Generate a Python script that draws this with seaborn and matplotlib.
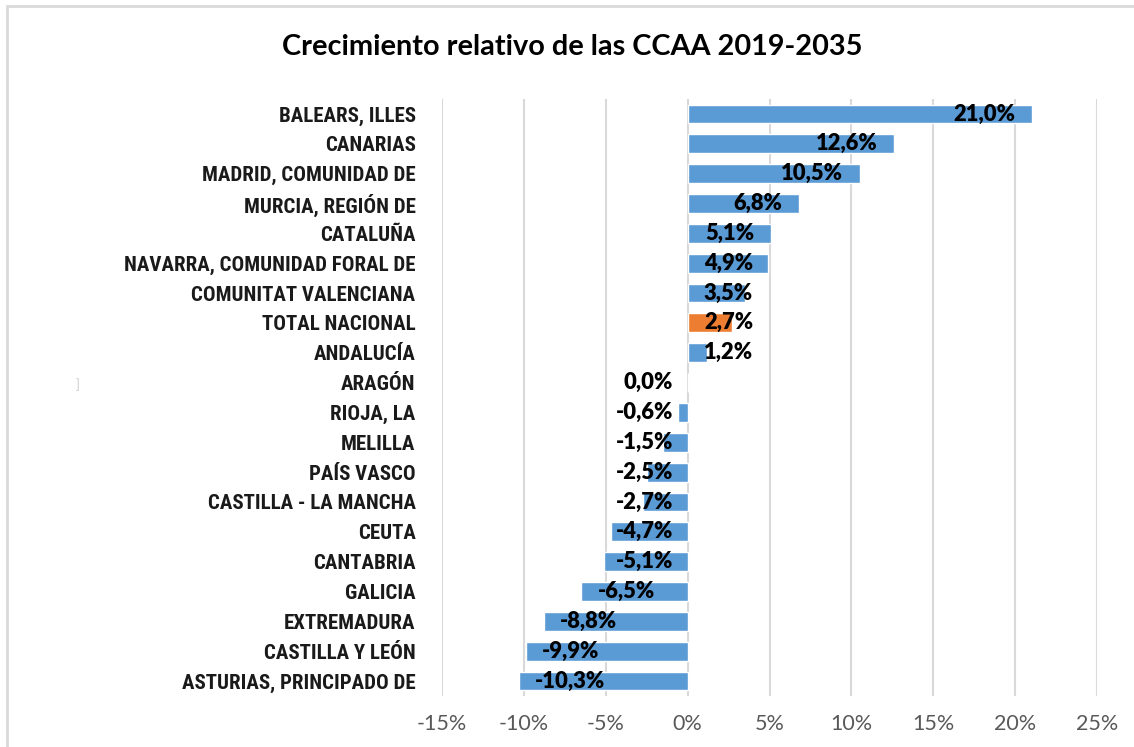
import matplotlib
matplotlib.use("Agg")
import matplotlib.pyplot as plt
import seaborn as sns
import pandas as pd
from matplotlib import font_manager
from matplotlib.patches import Rectangle

# Data
regions = [
    "BALEARS, ILLES", "CANARIAS", "MADRID, COMUNIDAD DE", "MURCIA, REGIÓN DE",
    "CATALUÑA", "NAVARRA, COMUNIDAD FORAL DE", "COMUNITAT VALENCIANA",
    "TOTAL NACIONAL", "ANDALUCÍA", "ARAGÓN", "RIOJA, LA", "MELILLA",
    "PAÍS VASCO", "CASTILLA - LA MANCHA", "CEUTA", "CANTABRIA", "GALICIA",
    "EXTREMADURA", "CASTILLA Y LEÓN", "ASTURIAS, PRINCIPADO DE",
]
growth = [21.0, 12.6, 10.5, 6.8, 5.1, 4.9, 3.5, 2.7, 1.2, 0.0,
          -0.6, -1.5, -2.5, -2.7, -4.7, -5.1, -6.5, -8.8, -9.9, -10.3]
x_ticks = [-15, -10, -5, 0, 5, 10, 15, 20, 25]
title = "Crecimiento relativo de las CCAA 2019-2035"


def pick_font(candidates):
    installed = {f.name for f in font_manager.fontManager.ttflist}
    for name in candidates:
        if name in installed:
            return name
    return "DejaVu Sans"


main_font = pick_font(["Lato", "Open Sans", "Noto Sans"])
narrow_font = pick_font(["Liberation Sans Narrow", "Roboto Condensed", "Lato"])

sns.set_theme(style="white")
plt.rcParams["font.family"] = [main_font, "DejaVu Sans"]

df = pd.DataFrame({"region": regions, "growth": growth})
df["kind"] = ["total" if r == "TOTAL NACIONAL" else "ccaa" for r in regions]

fig = plt.figure(figsize=(11.34, 7.47), dpi=100)
W, H = 1134, 747
ax = fig.add_axes([442 / W, 1 - 696 / H, (1097 - 442) / W, (696 - 99) / H])

sns.barplot(data=df, x="growth", y="region", hue="kind", dodge=False,
            palette={"ccaa": "#5B9BD5", "total": "#ED7D31"},
            width=0.63, legend=False, ax=ax, orient="h", saturation=1)

ax.set_xlim(-15, 25)
ax.set_ylim(len(regions) - 0.5, -0.5)
ax.set_xticks(x_ticks)
ax.set_xticklabels([f"{t}%" for t in x_ticks], fontsize=15.5, color="#595959")
ax.tick_params(axis="x", length=0, pad=13)
ax.tick_params(axis="y", length=0, pad=19)
for lab in ax.get_yticklabels():
    lab.set_fontfamily([narrow_font, "DejaVu Sans"])
    lab.set_fontweight("bold")
    lab.set_fontsize(15)
    lab.set_color("#1a1a1a")
ax.set_xlabel("")
ax.set_ylabel("")
ax.grid(axis="x", color="#d9d9d9", linewidth=1.5)
ax.set_axisbelow(True)
for s in ax.spines.values():
    s.set_visible(False)

# Value labels: inside the bar end, pushed out of the zero line when short
fig.canvas.draw()
renderer = fig.canvas.get_renderer()
px_per_unit = ax.bbox.width / 40.0
for i, v in enumerate(growth):
    txt = f"{v:.1f}%".replace(".", ",")
    t = ax.text(0, i, txt, ha="left", va="center", fontsize=15.8,
                fontweight="heavy", color="black")
    w = t.get_window_extent(renderer).width / px_per_unit
    if v > 0:
        left = max(v - 1.0 - w, 1.0)
    else:
        left = min(v + 1.0, -0.9 - w)
    t.set_x(left)

fig.text(572 / W, 1 - 47 / H, title, ha="center", va="center",
         fontsize=20.8, fontweight="bold", color="black")
fig.text(78 / W, 1 - 385 / H, "]", ha="center", va="center",
         fontsize=9, color="#cfcfcf")

# Outer chart frame (left and top edges visible)
fig.patches.append(Rectangle((7 / W, -0.1), 1.2, 1 - 6 / H + 0.1,
                             transform=fig.transFigure, fill=False,
                             edgecolor="#d9d9d9", linewidth=2))

fig.savefig("out.png", dpi=100)
